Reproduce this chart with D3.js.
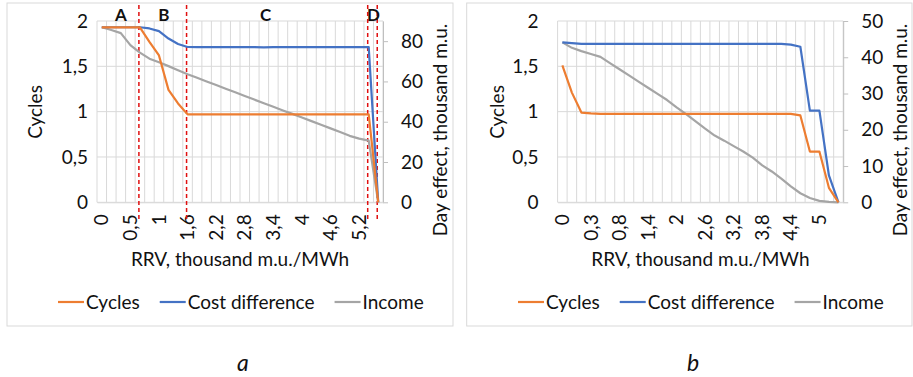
<!DOCTYPE html>
<html>
<head>
<meta charset="utf-8">
<script src="https://cdn.jsdelivr.net/npm/d3@7"></script>
<style>
  body { margin: 0; background: #fff; }
  svg { display: block; }
</style>
</head>
<body>
<svg id="chart" width="913" height="377"></svg>
<script>
// ---- data (a) ----
const catsA = ['0','0,1','0,3','0,5','0,6','0,8','1','1,2','1,4','1,6','1,8','2','2,2','2,4','2,6','2,8','3','3,2','3,4','3,6','3,8','4','4,2','4,4','4,6','4,8','5','5,2','5,4','5,6'];
const cyclesA = [1.93,1.93,1.93,1.93,1.93,1.77,1.62,1.24,1.09,0.97,0.97,0.97,0.97,0.97,0.97,0.97,0.97,0.97,0.97,0.97,0.97,0.97,0.97,0.97,0.97,0.97,0.97,0.97,0.97,0];
const costA = [86.9,86.9,86.9,86.9,86.9,86.3,85,81.3,78.6,77.1,77,77,77,77,77,77,77,76.9,77,77,77,77,77,77,77,77,77,77,77,0];
const incomeA = [86.9,85.5,84,78,74.3,71.3,69.5,67.6,65.6,63.6,61.8,60,58.2,56.4,54.6,52.8,51,49.2,47.4,45.6,43.9,42.1,40.3,38.5,36.7,34.9,33,31.6,30.6,0];
const rightTicksA = [0,20,40,60,80];
const regionsA = [{label:'A', at:2}, {label:'B', at:6.5}, {label:'C', at:17.2}, {label:'D', at:28.5}];
const splitsA = [4, 9, 28, 29];

// ---- data (b) ----
const catsB = ['0','0,1','0,2','0,3','0,4','0,6','0,8','1','1,2','1,4','1,6','1,8','2','2,2','2,4','2,6','2,8','3','3,2','3,4','3,6','3,8','4','4,2','4,4','4,6','4,8','5','5,2','5,4'];
const cyclesB = [1.51,1.21,0.99,0.98,0.975,0.975,0.975,0.975,0.975,0.975,0.975,0.975,0.975,0.975,0.975,0.975,0.975,0.975,0.975,0.975,0.975,0.975,0.975,0.975,0.975,0.958,0.56,0.56,0.16,0];
const costB = [44.1,43.9,43.7,43.7,43.7,43.7,43.7,43.7,43.7,43.7,43.7,43.7,43.7,43.7,43.7,43.7,43.7,43.7,43.7,43.7,43.7,43.7,43.7,43.7,43.5,42.9,25.3,25.3,7.4,0];
const incomeB = [44.1,42.6,41.7,40.9,40.1,38.4,36.7,35,33.3,31.6,29.9,28.2,26.2,24.3,22.3,20.3,18.4,17,15.5,14,12.3,10.2,8.5,6.5,4.4,2.5,1.2,0.4,0.1,0];
const rightTicksB = [0,10,20,30,40,50];

const leftTicks = [0, 0.5, 1, 1.5, 2];
const seriesNames = ['Cycles', 'Cost difference', 'Income'];
const COLORS = ['#ED7D31', '#4472C4', '#A5A5A5'];
const FONT = "Lato, 'Open Sans', sans-serif";
const FS = 19;
const comma = d => String(d).replace('.', ',');

const svg = d3.select('#chart');

function drawPanel(o) {
  const g = svg.append('g');
  const x0 = o.x0, x1 = o.x1, y0 = 21, y1 = 202.3;

  // frame
  g.append('rect')
    .attr('x', o.fx0).attr('y', 3)
    .attr('width', o.fx1 - o.fx0).attr('height', 323)
    .attr('fill', 'none').attr('stroke', '#d9d9d9').attr('stroke-width', 1);

  const x = d3.scaleBand().domain(o.cats).range([x0, x1]).padding(0);
  const bw = x.bandwidth();
  const cx = i => x(o.cats[i]) + bw / 2;
  const yL = d3.scaleLinear().domain([0, 2]).range([y1, y0]);
  const yR = d3.scaleLinear().domain([0, o.rMax]).range([y1, y0]);

  // gridlines
  const bounds = o.cats.map(c => x(c)).concat([x1]);
  g.append('g').selectAll('line').data(bounds).join('line')
    .attr('x1', d => d).attr('x2', d => d)
    .attr('y1', y0).attr('y2', y1)
    .attr('stroke', '#d9d9d9').attr('stroke-width', 1);
  g.append('g').selectAll('line').data(leftTicks).join('line')
    .attr('x1', x0).attr('x2', x1)
    .attr('y1', d => yL(d)).attr('y2', d => yL(d))
    .attr('stroke', '#d9d9d9').attr('stroke-width', 1);

  // left axis
  const ax = g.append('g').attr('transform', `translate(${x0},0)`)
    .call(d3.axisLeft(yL).tickValues(leftTicks).tickFormat(comma).tickSize(0).tickPadding(o.padL));
  ax.select('.domain').remove();

  // right axis
  const ar = g.append('g').attr('transform', `translate(${x1},0)`)
    .call(d3.axisRight(yR).tickValues(o.rTicks).tickSize(5).tickSizeOuter(0).tickPadding(13));
  ar.select('.domain').attr('stroke', '#bfbfbf');
  ar.selectAll('.tick line').attr('stroke', '#bfbfbf');

  // bottom axis
  const ab = g.append('g').attr('transform', `translate(0,${y1})`)
    .call(d3.axisBottom(x).tickValues(o.cats.filter((d, i) => i % 3 === 0)).tickSize(0).tickSizeOuter(0).tickPadding(0));
  ab.select('.domain').attr('stroke', '#d9d9d9');
  ab.selectAll('.tick text')
    .attr('transform', 'rotate(-90)')
    .attr('text-anchor', 'end')
    .attr('x', -12).attr('y', 0).attr('dy', '0.35em');

  [ax, ar, ab].forEach(a => a.selectAll('text')
    .attr('font-family', FONT).attr('font-size', FS).attr('fill', '#111'));
  [ax, ar, ab].forEach(a => a.attr('font-family', null).attr('font-size', null));

  // split markers
  if (o.splits) {
    g.append('g').selectAll('line').data(o.splits).join('line')
      .attr('x1', d => cx(d) - 1).attr('x2', d => cx(d) - 1)
      .attr('y1', 5).attr('y2', 222)
      .attr('stroke', '#e01010').attr('stroke-width', 1.5)
      .attr('stroke-dasharray', '4,3');
    g.append('g').selectAll('text').data(o.regions).join('text')
      .attr('x', d => x0 + bw * (d.at + 0.5))
      .attr('y', 15).attr('dy', '0.35em')
      .attr('text-anchor', 'middle')
      .attr('font-family', FONT).attr('font-size', 17).attr('font-weight', 'bold')
      .attr('fill', '#111')
      .text(d => d.label);
  }

  // series
  const series = [
    { v: o.cycles, y: yL },
    { v: o.cost, y: yR },
    { v: o.income, y: yR }
  ];
  const order = [2, 1, 0];
  order.forEach(k => {
    const s = series[k];
    g.append('path')
      .datum(s.v)
      .attr('fill', 'none')
      .attr('stroke', COLORS[k])
      .attr('stroke-width', 2.2)
      .attr('stroke-linejoin', 'round')
      .attr('d', d3.line().x((d, i) => cx(i)).y(d => s.y(d)));
  });

  // axis titles
  g.append('text')
    .attr('transform', `translate(${o.tL},112) rotate(-90)`)
    .attr('text-anchor', 'middle').attr('dy', '0.35em')
    .attr('font-family', FONT).attr('font-size', FS).attr('fill', '#111')
    .text('Cycles');
  g.append('text')
    .attr('transform', `translate(${o.tR},130) rotate(-90)`)
    .attr('text-anchor', 'middle').attr('dy', '0.35em')
    .attr('font-family', FONT).attr('font-size', FS).attr('fill', '#111')
    .text('Day effect, thousand m.u.');
  g.append('text')
    .attr('x', (x0 + x1) / 2).attr('y', 259).attr('dy', '0.35em')
    .attr('text-anchor', 'middle')
    .attr('font-family', FONT).attr('font-size', FS).attr('fill', '#111')
    .text('RRV, thousand m.u./MWh');

  // legend
  const lg = g.append('g').attr('transform', `translate(${o.legX},302)`);
  let off = 0;
  seriesNames.forEach((name, k) => {
    lg.append('line')
      .attr('x1', off).attr('x2', off + 26).attr('y1', 0).attr('y2', 0)
      .attr('stroke', COLORS[k]).attr('stroke-width', 2.2);
    const t = lg.append('text')
      .attr('x', off + 28).attr('y', 0).attr('dy', '0.35em')
      .attr('font-family', FONT).attr('font-size', FS).attr('fill', '#111')
      .text(name);
    off += 28 + t.node().getComputedTextLength() + 20;
  });

  // caption
  svg.append('text')
    .attr('x', o.capX).attr('y', 363).attr('dy', '0.35em')
    .attr('text-anchor', 'middle')
    .attr('font-family', FONT).attr('font-size', 23).attr('font-style', 'italic')
    .attr('fill', '#111')
    .text(o.cap);
}

drawPanel({
  cats: catsA, cycles: cyclesA, cost: costA, income: incomeA,
  rMax: 90, rTicks: rightTicksA, splits: splitsA, regions: regionsA,
  x0: 97, x1: 383, fx0: 7, fx1: 453, padL: 9, tL: 35, tR: 440, legX: 58, capX: 243, cap: 'a'
});
drawPanel({
  cats: catsB, cycles: cyclesB, cost: costB, income: incomeB,
  rMax: 50, rTicks: rightTicksB,
  x0: 557.6, x1: 843.2, fx0: 466.7, fx1: 912, padL: 19, tL: 497, tR: 900, legX: 518, capX: 693, cap: 'b'
});
</script>
</body>
</html>
